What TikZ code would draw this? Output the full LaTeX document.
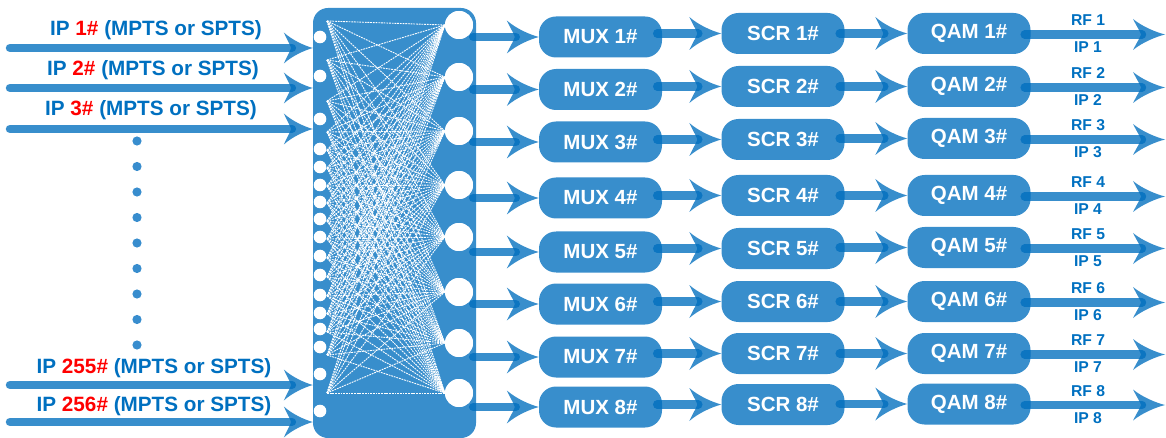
\documentclass[tikz,border=0pt]{standalone}
\usepackage{fontspec}
\setmainfont{Liberation Sans}
\usetikzlibrary{arrows.meta,calc}
\definecolor{arrblue}{RGB}{0,110,190}
\definecolor{txtblue}{RGB}{0,112,192}
\definecolor{lightblue}{RGB}{56,141,206}
\definecolor{ipred}{RGB}{255,0,0}

\pgfdeclarearrow{
  name = Swept,
  defaults = {length = 32pt, width = 32pt},
  setup code = {
    \pgfarrowssettipend{0pt}
    \pgfarrowssetbackend{-\pgfarrowlength}
    \pgfarrowssetlineend{-.72\pgfarrowlength}
    \pgfarrowssetvisualbackend{-.75\pgfarrowlength}
    \pgfarrowshullpoint{0pt}{0pt}
    \pgfarrowsupperhullpoint{-\pgfarrowlength}{.5\pgfarrowwidth}
    \pgfarrowssavethe\pgfarrowlength
    \pgfarrowssavethe\pgfarrowwidth
  },
  drawing code = {
    \pgfpathmoveto{\pgfpointorigin}
    \pgfpathcurveto{\pgfpoint{-.3\pgfarrowlength}{.08\pgfarrowwidth}}{\pgfpoint{-.7\pgfarrowlength}{.25\pgfarrowwidth}}{\pgfpoint{-\pgfarrowlength}{.5\pgfarrowwidth}}
    \pgfpathcurveto{\pgfpoint{-.86\pgfarrowlength}{.22\pgfarrowwidth}}{\pgfpoint{-.77\pgfarrowlength}{.08\pgfarrowwidth}}{\pgfpoint{-.75\pgfarrowlength}{0pt}}
    \pgfpathcurveto{\pgfpoint{-.77\pgfarrowlength}{-.08\pgfarrowwidth}}{\pgfpoint{-.86\pgfarrowlength}{-.22\pgfarrowwidth}}{\pgfpoint{-\pgfarrowlength}{-.5\pgfarrowwidth}}
    \pgfpathcurveto{\pgfpoint{-.7\pgfarrowlength}{-.25\pgfarrowwidth}}{\pgfpoint{-.3\pgfarrowlength}{-.08\pgfarrowwidth}}{\pgfpointorigin}
    \pgfpathclose
    \pgfusepathqfill
  },
  parameters = {\the\pgfarrowlength,\the\pgfarrowwidth},
}

\begin{document}
\begin{tikzpicture}[x=1pt,y=-1pt,
  flow/.style={draw=arrblue, line width=8.5pt, line cap=round, opacity=.78,
    -{Swept[length=32pt,width=33pt]}},
  inflow/.style={flow, -{Swept[length=29pt,width=31pt]}},
  outflow/.style={flow, -{Swept[length=32pt,width=31pt]}},
  pill/.style={fill=arrblue, fill opacity=.78, text opacity=1, draw=none,
    rounded corners=17pt, minimum width=123pt, minimum height=41pt, inner sep=0pt,
    text=white, font=\fontsize{20.5}{24}\selectfont\bfseries},
  matbox/.style={fill=arrblue, fill opacity=.78, draw=none, rounded corners=15pt,
    minimum width=163pt, minimum height=430pt, inner sep=0pt},
  inlabel/.style={text=txtblue, inner sep=0pt, font=\fontsize{20.7}{24}\selectfont\bfseries},
  rflabel/.style={text=txtblue, inner sep=0pt, font=\fontsize{15.7}{18}\selectfont\bfseries},
  smalldot/.style={circle, fill=white, minimum size=12.6pt, inner sep=0pt},
  bigdot/.style={circle, fill=white, minimum size=28pt, inner sep=0pt},
  mesh/.style={draw=white, line width=.9pt, dash pattern=on 1.8pt off .9pt},
  vdot/.style={fill=lightblue},
]
\useasboundingbox (0,0) rectangle (1166,438);

% switching matrix
\node[matbox] (mat) at (394.5,223) {};

% big output circles
\foreach \i/\y in {1/25,2/77,3/131,4/185,5/237,6/292,7/343,8/393}
  \node[bigdot] (R\i) at (459,\y) {};

% mesh anchors
\foreach \k/\y in {1/21,2/60,3/101,4/132,5/150,6/168,7/186,8/203,9/221,10/239,11/258,12/277,13/296,14/314,15/332,16/355,17/393}
  \coordinate (L\k) at (327,\y);
\foreach \k in {1,...,17}
  \foreach \j in {1,...,8}
    \draw[mesh] (L\k) -- (R\j.west);
\foreach \i in {1,...,8}
  \node[bigdot] at (R\i) {};

% small input circles
\foreach \k/\y in {1/37,2/76,3/119,4/149,5/167,6/185,7/202,8/219,9/237,10/256,11/275,12/295,13/313,14/329,15/347,16/374,17/411}
  \node[smalldot] (S\k) at (320,\y) {};

% inputs
\foreach \k/\y in {1/48,2/88,3/129,4/385,5/422}
  \coordinate (I\k) at (10,\y);
\foreach \k in {1,...,5}
  \draw[inflow] (I\k) -- (I\k -| mat.west);

\node[inlabel] (t1) at (156,30) {IP \textcolor{ipred}{1\#} (MPTS or SPTS)};
\node[inlabel] (t2) at (153,70) {IP \textcolor{ipred}{2\#} (MPTS or SPTS)};
\node[inlabel] (t3) at (151,110) {IP \textcolor{ipred}{3\#} (MPTS or SPTS)};
\node[inlabel] (t4) at (154,368) {IP \textcolor{ipred}{255\#} (MPTS or SPTS)};
\node[inlabel] (t5) at (154,406) {IP \textcolor{ipred}{256\#} (MPTS or SPTS)};

\foreach \y in {141,166.5,192,217.5,243,268.5,294,319.5,345}
  \fill[vdot] (137,\y) circle (4.6);

% processing chain
\coordinate (oute) at (1165,0);
\coordinate (rfx) at (1088,0);
\foreach \i/\my/\sy/\qy in {1/37/33.5/33.5,2/89.5/86.5/86.5,3/142/139.5/138.5,4/198/195.5/195.5,5/252/248.5/247.5,6/304/301.5/301.5,7/357/353.5/353.5,8/407/404.5/404}
{
  \node[pill] (mux\i) at (600.5,\my) {MUX \i\#};
  \node[pill] (scr\i) at (783,\sy) {SCR \i\#};
  \node[pill] (qam\i) at (969,\qy) {QAM \i\#};
  \draw[flow] (mux\i.west -| R\i.east) -- (mux\i.west);
  \draw[flow] ($(mux\i.east |- scr\i.west)+(-5,0)$) -- (scr\i.west);
  \draw[flow] ($(scr\i.east |- qam\i.west)+(-5,0)$) -- (qam\i.west);
  \draw[outflow] ($(qam\i.east)+(-6,1)$) -- ($(qam\i.east -| oute)+(0,1)$);
  \node[rflabel] (rf\i) at ($(qam\i.east -| rfx)+(0,-13)$) {RF \i};
  \node[rflabel] (ip\i) at ($(qam\i.east -| rfx)+(0,14)$) {IP \i};
}
\end{tikzpicture}
\end{document}
